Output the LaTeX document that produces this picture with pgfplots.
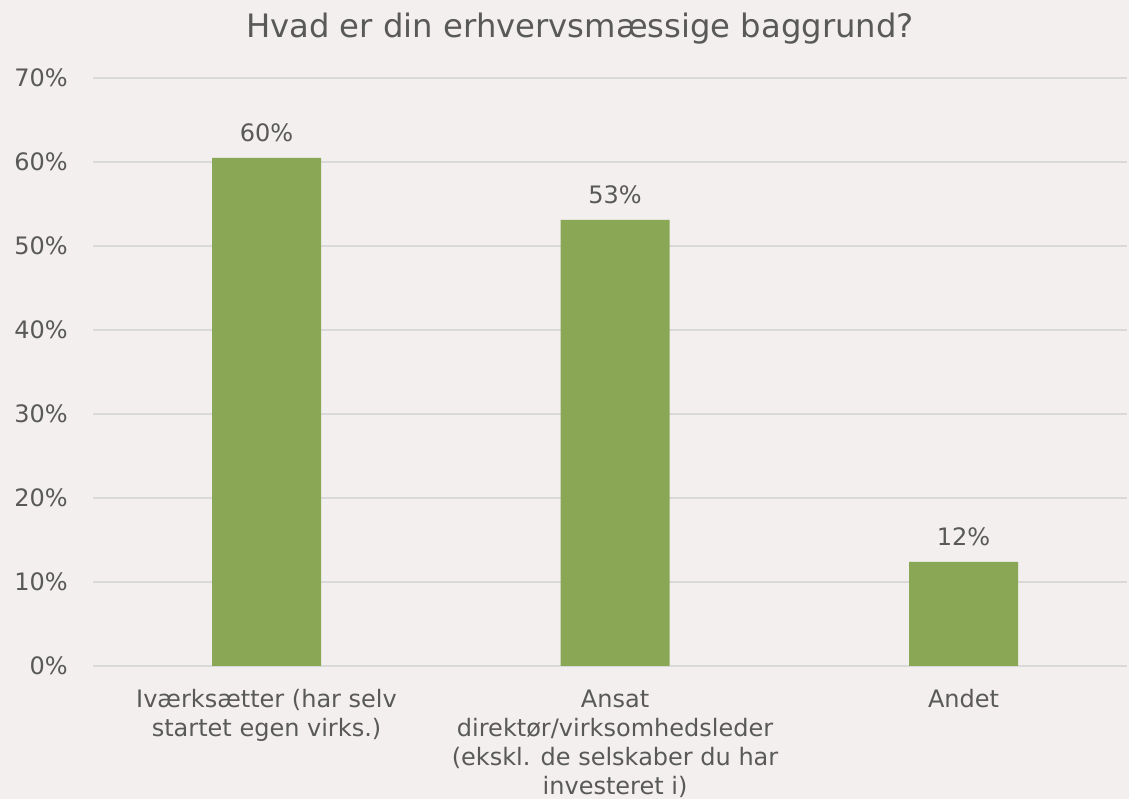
\documentclass[border=0pt]{standalone}
\usepackage{fontspec}
\setmainfont{DejaVu Sans}
\usepackage{pgfplots}
\pgfplotsset{compat=1.18}
\definecolor{bg}{RGB}{242,239,238}
\definecolor{barc}{RGB}{138,167,86}
\definecolor{txt}{RGB}{89,89,89}
\definecolor{gridc}{RGB}{217,217,217}
\begin{document}
\begin{tikzpicture}
\fill[bg] (-69.75pt,-99.75pt) rectangle (777pt,499.5pt);
\path[use as bounding box] (-69.75pt,-99.75pt) rectangle (777pt,499.5pt);
\begin{axis}[
  at={(0pt,0pt)}, anchor=south west,
  scale only axis,
  width=775.5pt, height=441pt,
  xmin=-0.498, xmax=2.469,
  ymin=0, ymax=70,
  enlargelimits=false,
  clip=false,
  axis line style={draw=none},
  major tick style={draw=none},
  ymajorgrids,
  grid style={gridc, line width=0.9pt},
  ytick={0,10,20,30,40,50,60,70},
  yticklabels={0\%,10\%,20\%,30\%,40\%,50\%,60\%,70\%},
  yticklabel style={anchor=east, inner sep=0pt, xshift=-18.75pt, text=txt, font=\fontsize{18}{23}\selectfont},
  xtick={0,1,2},
  xticklabels={{Iværksætter (har selv\\startet egen virks.)},{Ansat\\direktør/virksomhedsleder\\(ekskl. de selskaber du har\\investeret i)},{Andet}},
  xticklabel style={align=center, anchor=north, inner sep=0pt, yshift=-17.5pt, text=txt, font=\fontsize{18}{21.8}\selectfont},
  nodes near coords={\pgfplotspointmeta\%},
  point meta=explicit symbolic,
  nodes near coords style={anchor=base, inner sep=0pt, yshift=12pt, text=txt, font=\fontsize{18}{22}\selectfont},
]
\addplot[ybar, fill=barc, draw=none, bar width=81.75pt] table[x=x, y=y, meta=label] {
x y label
0 60.5 60
1 53.1 53
2 12.4 12
};
\end{axis}
\node[anchor=base, text=txt, font=\fontsize{24.2}{28}\selectfont] at (365.25pt,471pt) {Hvad er din erhvervsmæssige baggrund?};
\end{tikzpicture}
\end{document}
